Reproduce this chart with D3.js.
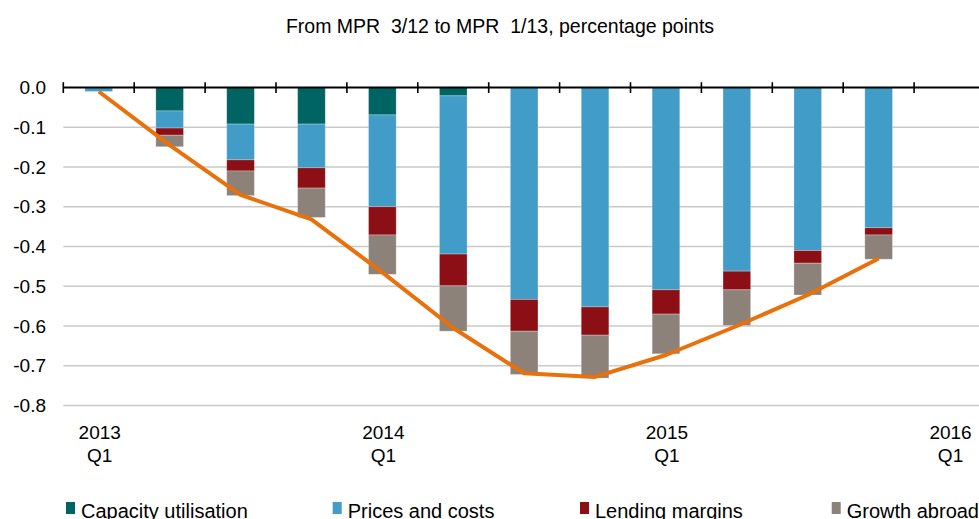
<!DOCTYPE html>
<html>
<head>
<meta charset="utf-8">
<script src="https://cdn.jsdelivr.net/npm/d3@7/dist/d3.min.js"></script>
<style>
  html, body { margin: 0; padding: 0; background: #fff; }
  svg { display: block; font-family: "Liberation Sans", Arial, sans-serif; }
</style>
</head>
<body>
<svg id="chart" width="979" height="519"></svg>
<script>
const categories = ["2013 Q1","2013 Q2","2013 Q3","2013 Q4","2014 Q1","2014 Q2","2014 Q3","2014 Q4","2015 Q1","2015 Q2","2015 Q3","2015 Q4","2016 Q1"];
const capacityUtilisation = [0, -0.059, -0.092, -0.092, -0.069, -0.021, 0, 0, 0, 0, 0, 0, 0];
const pricesAndCosts      = [-0.01, -0.043, -0.090, -0.110, -0.231, -0.398, -0.533, -0.552, -0.509, -0.462, -0.410, -0.353, 0];
const lendingMargins      = [0, -0.018, -0.028, -0.051, -0.071, -0.080, -0.080, -0.071, -0.061, -0.047, -0.032, -0.018, 0];
const growthAbroad        = [0, -0.029, -0.062, -0.074, -0.099, -0.114, -0.109, -0.108, -0.100, -0.090, -0.080, -0.061, 0];
const totalChange         = [-0.01, -0.145, -0.270, -0.332, -0.465, -0.605, -0.719, -0.728, -0.673, -0.600, -0.522, -0.430, null];
const yTicks = [0, -0.1, -0.2, -0.3, -0.4, -0.5, -0.6, -0.7, -0.8];
const xLabelYears = {"2013 Q1": "2013", "2014 Q1": "2014", "2015 Q1": "2015", "2016 Q1": "2016"};
const seriesNames = ["Capacity utilisation", "Prices and costs", "Lending margins", "Growth abroad"];
const seriesColors = ["#006462", "#419CC7", "#8B0F14", "#8C8279"];
const title = "From MPR  3/12 to MPR  1/13, percentage points";

const seriesData = [capacityUtilisation, pricesAndCosts, lendingMargins, growthAbroad];

const svg = d3.select("#chart");
const plotLeft = 63.3, plotRight = 985, plotTop = 87.5, plotBottom = 405.5;

const x = d3.scaleBand().domain(categories).range([plotLeft, plotRight]).paddingInner(0.61).paddingOuter(0.305);
const xb = d3.scaleBand().domain(categories).range([plotLeft, plotRight]).padding(0);
const y = d3.scaleLinear().domain([-0.8, 0]).range([plotBottom, plotTop]);

// title
svg.append("text").attr("x", 500).attr("y", 33).attr("text-anchor", "middle")
  .attr("font-size", 19.5).attr("fill", "#000").style("white-space", "pre").text(title);

// gridlines
svg.append("g").selectAll("line").data(yTicks.filter(d => d !== 0)).join("line")
  .attr("x1", plotLeft).attr("x2", 979).attr("y1", d => y(d)).attr("y2", d => y(d))
  .attr("stroke", "#C9C9C9").attr("stroke-width", 1.6);

// y labels (hyphen-minus as in the reference)
svg.append("g").selectAll("text").data(yTicks).join("text")
  .attr("x", 46).attr("y", d => y(d)).attr("dy", "0.35em").attr("text-anchor", "end")
  .attr("font-size", 19).attr("fill", "#000").text(d => d3.format(".1f")(d).replace("\u2212", "-"));

// stacked bars (all negative, stacking downward)
const stacks = [];
categories.forEach((c, i) => {
  let acc = 0;
  seriesData.forEach((s, k) => {
    const v = s[i];
    stacks.push({cat: c, k: k, y0: acc, y1: acc + v});
    acc += v;
  });
});
svg.append("g").selectAll("rect").data(stacks.filter(d => d.y1 !== d.y0)).join("rect")
  .attr("x", d => x(d.cat)).attr("width", x.bandwidth())
  .attr("y", d => y(d.y0)).attr("height", d => y(d.y1) - y(d.y0))
  .attr("fill", d => seriesColors[d.k])
  .attr("stroke", "rgba(255,255,255,0.35)").attr("stroke-width", 0.8);

// zero axis line
const axisG = svg.append("g");
axisG.append("line").attr("x1", plotLeft).attr("x2", 979).attr("y1", y(0)).attr("y2", y(0))
  .attr("stroke", "#000").attr("stroke-width", 2);
const tickPos = categories.map(c => xb(c));
axisG.selectAll("line.tick").data(tickPos).join("line").attr("class", "tick")
  .attr("x1", d => d).attr("x2", d => d).attr("y1", y(0) - 5.3).attr("y2", y(0) + 5.5)
  .attr("stroke", "#000").attr("stroke-width", 1.6);

// x labels
const xl = svg.append("g").selectAll("text").data(categories.filter(c => xLabelYears[c])).join("text")
  .attr("text-anchor", "middle").attr("font-size", 19).attr("fill", "#000");
xl.append("tspan").attr("x", d => xb(d) + xb.bandwidth() / 2 + 1).attr("y", 438.5).text(d => xLabelYears[d]);
xl.append("tspan").attr("x", d => xb(d) + xb.bandwidth() / 2 + 1).attr("y", 462).text("Q1");

// total line
const line = d3.line().defined(d => d.v !== null)
  .x(d => x(d.cat) + x.bandwidth() / 2).y(d => y(d.v));
svg.append("path").datum(categories.map((c, i) => ({cat: c, v: totalChange[i]})))
  .attr("d", line).attr("fill", "none").attr("stroke", "#E8710C")
  .attr("stroke-width", 4).attr("stroke-linejoin", "round");

// legend
const legendX = [66, 332.7, 580, 831.7];
const lg = svg.append("g").selectAll("g").data(seriesNames).join("g")
  .attr("transform", (d, i) => `translate(${legendX[i]},0)`);
lg.append("rect").attr("x", 0).attr("y", 502).attr("width", 9).attr("height", 12)
  .attr("fill", (d, i) => seriesColors[i]);
lg.append("text").attr("x", 15).attr("y", 517.5).attr("font-size", 20).attr("fill", "#000").text(d => d);
</script>
</body>
</html>
